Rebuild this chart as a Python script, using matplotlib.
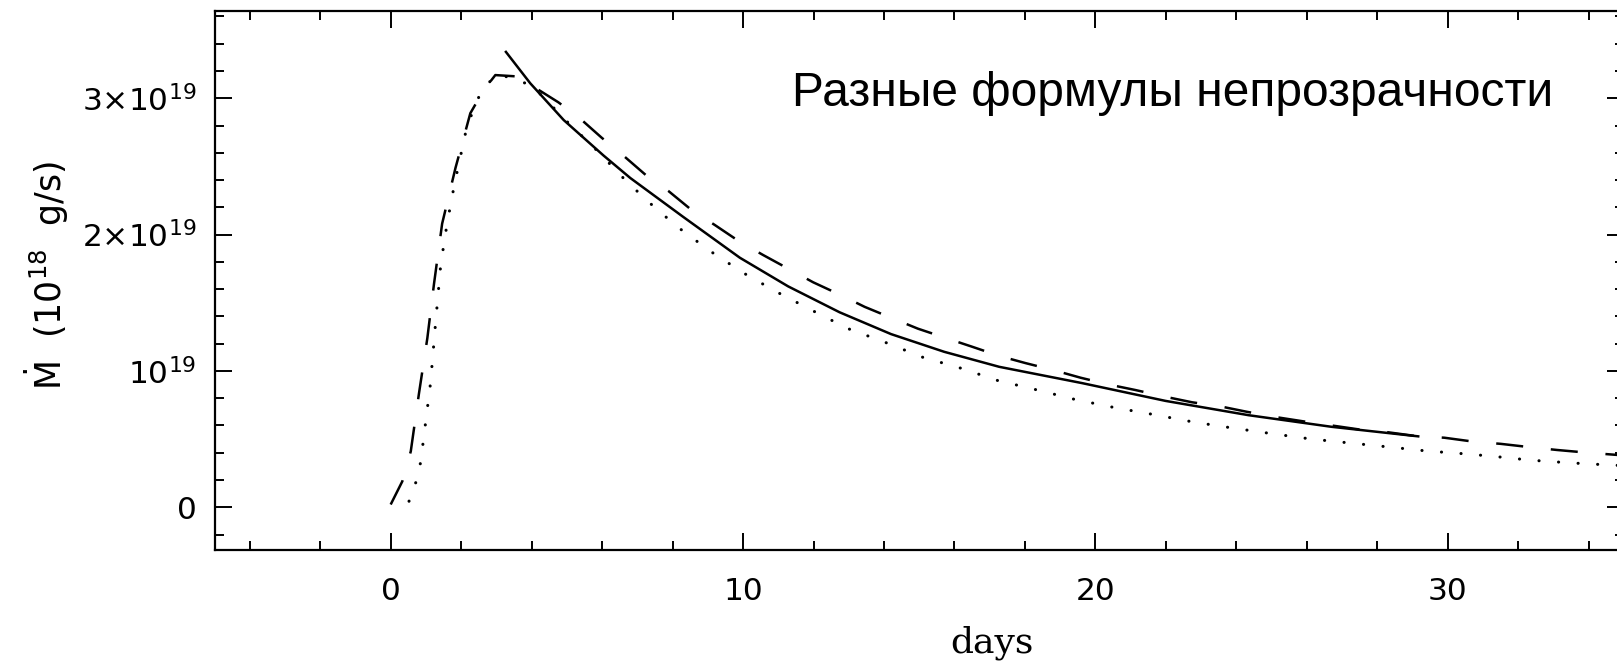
import matplotlib
matplotlib.use("Agg")
import matplotlib.pyplot as plt
from matplotlib.ticker import MultipleLocator

# Mdot in units of 1e19 g/s, time in days
solid_t = [3.27, 3.96, 4.91, 6.04, 6.80, 8.30, 9.91, 11.28, 12.74, 14.20,
           15.71, 17.27, 19.63, 21.99, 24.35, 26.70, 29.16]
solid_m = [3.34, 3.11, 2.84, 2.58, 2.415, 2.13, 1.83, 1.62, 1.43, 1.27,
           1.14, 1.03, 0.91, 0.78, 0.675, 0.59, 0.52]

dash_t = [0.0, 0.33, 0.57, 0.80, 1.04, 1.23, 1.46, 1.84, 2.03, 2.26, 2.64,
          2.97, 3.59, 3.96, 4.76, 5.38, 5.99, 6.60, 7.27, 7.88, 8.54, 9.20,
          9.89, 10.57, 11.28, 11.99, 12.74, 13.45, 14.20, 14.96, 15.71, 16.47,
          17.27, 18.02, 18.82, 19.58, 20.38, 21.13, 21.99, 22.74, 23.54, 24.30,
          25.15, 25.90, 26.70, 27.50, 28.30, 29.16, 29.90, 30.76, 31.50, 32.35,
          33.10, 33.97, 35.0]
dash_m = [0.02, 0.19, 0.41, 0.83, 1.24, 1.64, 2.08, 2.49, 2.67, 2.89, 3.06,
          3.17, 3.16, 3.10, 2.97, 2.85, 2.71, 2.58, 2.43, 2.32, 2.18, 2.07,
          1.95, 1.85, 1.75, 1.65, 1.56, 1.47, 1.39, 1.31, 1.245, 1.18,
          1.11, 1.057, 1.005, 0.95, 0.90, 0.86, 0.81, 0.77, 0.74, 0.70,
          0.66, 0.63, 0.60, 0.57, 0.55, 0.52, 0.51, 0.48, 0.465, 0.44,
          0.42, 0.40, 0.38]

dot_t = [0.52, 0.71, 0.85, 0.99, 1.13, 1.27, 1.42, 1.60, 1.81, 2.17, 2.55,
         2.97, 3.50, 4.06, 5.00, 6.04, 6.42, 7.27, 8.12, 9.06, 10.00, 10.95,
         11.99, 12.98, 14.03, 15.10, 16.18, 17.22, 18.35, 19.43, 20.56, 21.65,
         22.78, 23.92, 25.00, 26.13, 27.27, 28.40, 29.50, 30.10, 31.23, 32.36,
         33.50, 34.58, 35.0]
dot_m = [0.044, 0.18, 0.33, 0.62, 0.91, 1.34, 1.78, 2.08, 2.37, 2.80, 3.04,
         3.17, 3.15, 3.08, 2.83, 2.57, 2.46, 2.25, 2.06, 1.88, 1.72, 1.58,
         1.44, 1.31, 1.21, 1.10, 1.02, 0.93, 0.86, 0.79, 0.73, 0.68,
         0.625, 0.58, 0.54, 0.50, 0.47, 0.44, 0.41, 0.40, 0.375, 0.345,
         0.325, 0.31, 0.305]

ytick_vals = [0, 1, 2, 3]
ytick_labels = ["0", r"$10^{19}$", r"$2{\times}10^{19}$", r"$3{\times}10^{19}$"]
xtick_vals = [0, 10, 20, 30]

plt.rcParams["mathtext.fontset"] = "dejavusans"
plt.rcParams["lines.scale_dashes"] = False

W, H = 1617, 663
fig = plt.figure(figsize=(W / 100, H / 100), dpi=100)
# right spine sits just outside the picture, as in the original crop
left, right, top, bottom = 214.5, 1624, 11, 549.5
ax = fig.add_axes([left / W, (H - bottom) / H, (right - left) / W, (bottom - top) / H])

ax.plot(solid_t, solid_m, color="black", lw=1.8)
ax.plot(dash_t, dash_m, color="black", lw=1.8, linestyle=(0, (19.5, 20)))
ax.plot(dot_t, dot_m, color="black", lw=2.2, linestyle=(0, (0.1, 14)),
        dash_capstyle="round")

ax.set_xlim(-5, 35)
ax.set_ylim(-0.31, 3.64)
ax.set_xticks(xtick_vals)
ax.set_xticklabels([str(v) for v in xtick_vals])
ax.set_yticks(ytick_vals)
ax.set_yticklabels(ytick_labels)
ax.xaxis.set_minor_locator(MultipleLocator(2))
ax.yaxis.set_minor_locator(MultipleLocator(0.2))
ax.tick_params(which="both", direction="in", top=True, right=True, width=1.4,
               labelsize=22.5)
ax.tick_params(axis="x", pad=20)
ax.tick_params(axis="y", pad=13)
ax.tick_params(which="major", length=12)
ax.tick_params(which="minor", length=6.5)
for s in ax.spines.values():
    s.set_linewidth(1.6)

fig.text(47 / W, 1 - 276 / H, r"$\dot{\mathrm{M}}$  (10$^{18}$  g/s)",
         rotation=90, ha="center", va="center", fontsize=25)
fig.text(950 / W, 1 - 653 / H, "days", family="DejaVu Serif", fontsize=26,
         va="baseline")
fig.text(792 / W, 1 - 106 / H, "Разные формулы непрозрачности",
         family="Liberation Sans", fontsize=34.5, va="baseline")

fig.savefig("out.png", dpi=100)
